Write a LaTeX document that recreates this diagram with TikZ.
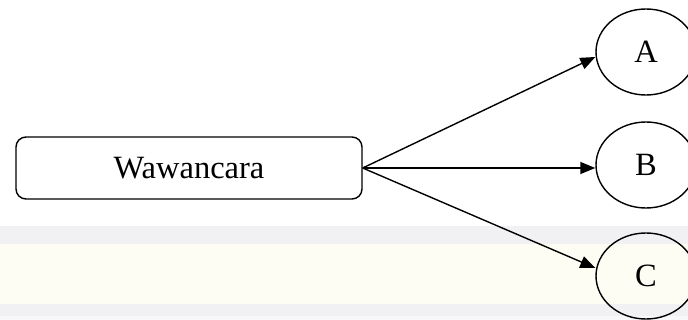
\documentclass[tikz,border=0pt]{standalone}
\usepackage{fontspec}
\setmainfont{Liberation Serif}
\usetikzlibrary{shapes.geometric,arrows.meta}
\definecolor{bandgray}{HTML}{F1F1F4}
\definecolor{bandyellow}{HTML}{FDFDF3}
\definecolor{bandlight}{HTML}{F8F8FA}
\tikzset{
  box/.style={draw=black,line width=1.4pt,rounded corners=10pt,minimum width=346pt,minimum height=62pt,inner sep=0pt,font=\fontsize{32.5}{38}\selectfont},
  leaf/.style={draw=black,line width=1.4pt,ellipse,minimum width=100pt,minimum height=86pt,inner sep=0pt,font=\fontsize{32.5}{38}\selectfont},
  conn/.style={line width=1.4pt,-{Triangle[length=15pt,width=12pt]}}
}
\begin{document}
\begin{tikzpicture}[x=1pt,y=-1pt]
\useasboundingbox (0,0) rectangle (688,320);
\fill[bandgray] (0,226) rectangle (688,244);
\fill[bandyellow] (0,244) rectangle (688,304);
\fill[bandgray] (0,304) rectangle (688,316);
\fill[bandlight] (0,316) rectangle (688,320);
\node[box] (W) at (189,168) {Wawancara};
\node[leaf] (A) at (646,52) {A};
\node[leaf] (B) at (646,165) {B};
\node[leaf] (C) at (646,276) {C};
\draw[conn] (W.east) -- ([yshift=-5pt]A.west);
\draw[conn] (W.east) -- ([yshift=-3pt]B.west);
\draw[conn] (W.east) -- ([yshift=8pt]C.west);
\end{tikzpicture}
\end{document}
